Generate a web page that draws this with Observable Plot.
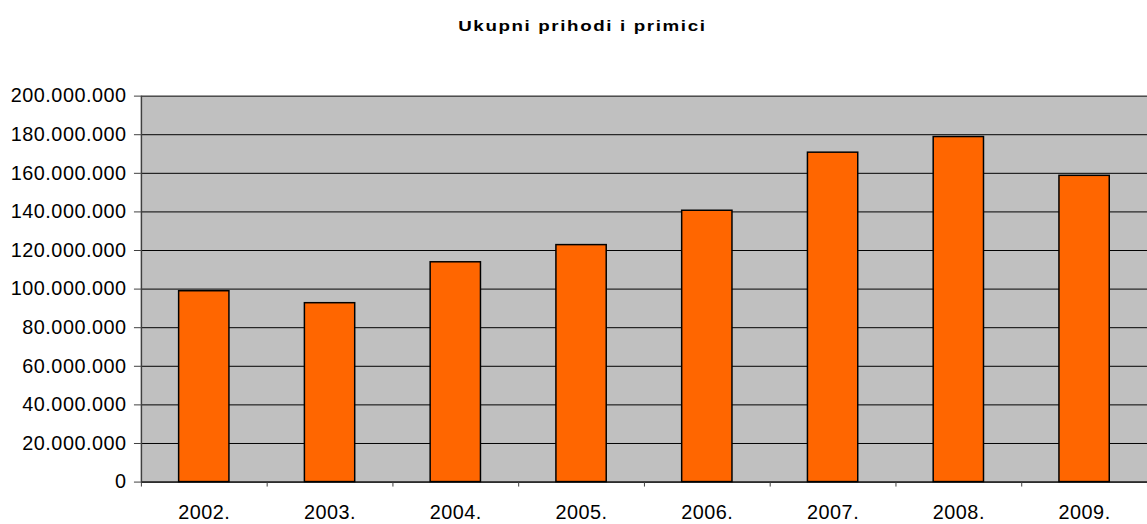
<!DOCTYPE html>
<html>
<head>
<meta charset="utf-8">
<script src="https://cdn.jsdelivr.net/npm/d3@7"></script>
<script src="https://cdn.jsdelivr.net/npm/@observablehq/plot@0.6"></script>
<style>
  html, body { margin: 0; padding: 0; background: #fff; overflow: hidden; }
  #title { width: 1164px; height: 48px; text-align: center;
    font-family: "Liberation Sans", Arial, sans-serif; font-weight: bold; font-size: 15px;
    line-height: 52px; color: #000; }
  #title span { display: inline-block; letter-spacing: 1.3px; transform: scaleX(1.25); transform-origin: 50% 50%; }
  #chart svg { display: block; }
</style>
</head>
<body>
<div id="title"><span>Ukupni prihodi i primici</span></div>
<div id="chart"></div>
<script>
const years = ["2002.", "2003.", "2004.", "2005.", "2006.", "2007.", "2008.", "2009."];
const values = [98.9e6, 92.7e6, 113.9e6, 122.8e6, 140.6e6, 170.7e6, 178.8e6, 158.7e6];
const yTicks = [0, 20e6, 40e6, 60e6, 80e6, 100e6, 120e6, 140e6, 160e6, 180e6, 200e6];

const data = years.map((y, i) => ({i, year: y, value: values[i]}));
const fmt = d => d3.format(",")(d).replace(/,/g, ".");
const bounds = d3.range(years.length + 1);
const centers = years.map((_, i) => i + 0.5);

const chart = Plot.plot({
  width: 1156,
  height: 476,
  marginTop: 48,
  marginBottom: 39,
  marginLeft: 142,
  marginRight: 0,
  style: {fontFamily: "'Liberation Sans', Arial, sans-serif", fontSize: "20px", letterSpacing: "0.5px", color: "#000", background: "#fff", overflow: "visible"},
  x: {type: "linear", domain: [0, years.length], axis: null},
  y: {domain: [0, 200e6], axis: null},
  marks: [
    Plot.frame({fill: "#C0C0C0", stroke: null}),
    Plot.gridY(yTicks, {stroke: "#000", strokeOpacity: 1, strokeWidth: 1}),
    Plot.rect(data, {x1: d => d.i + 0.3, x2: d => d.i + 0.7, y1: 0, y2: "value",
      fill: "#FF6600", stroke: "#000", strokeWidth: 1.5}),
    Plot.ruleX([0], {stroke: "#404040", strokeWidth: 1.5}),
    Plot.ruleY([0], {stroke: "#000", strokeWidth: 1}),
    Plot.axisY(yTicks, {label: null, tickSize: 7, tickPadding: 8, tickFormat: fmt, stroke: "#404040", fill: "#000"}),
    Plot.axisX(bounds, {label: null, tickSize: 5, tickFormat: () => "", stroke: "#404040"}),
    Plot.axisX(centers, {label: null, tickSize: 0, tickPadding: 23.5, tickFormat: d => years[Math.round(d - 0.5)], fill: "#000"})
  ]
});
document.getElementById("chart").appendChild(chart);
</script>
</body>
</html>
